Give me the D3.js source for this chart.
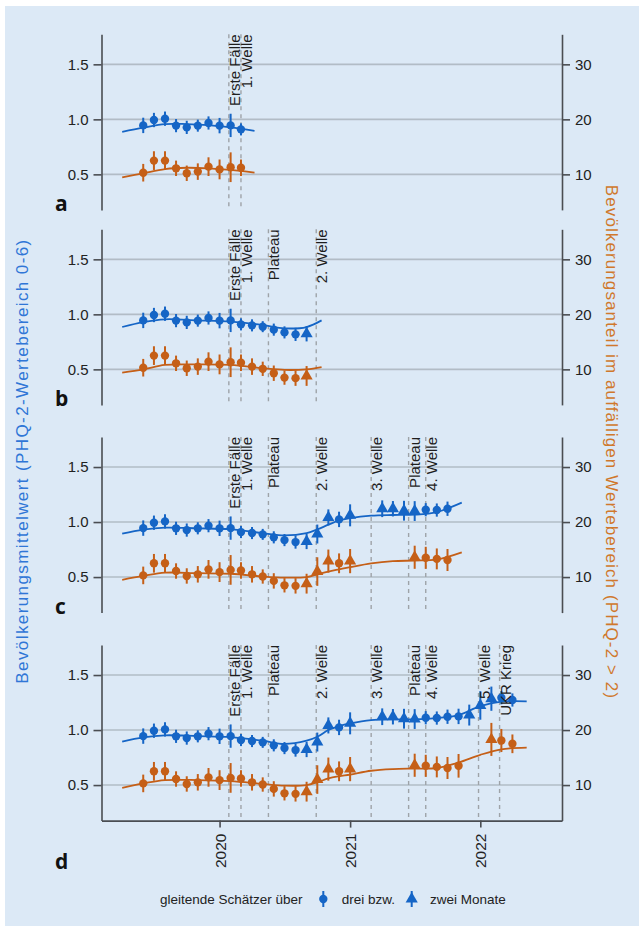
<!DOCTYPE html>
<html>
<head>
<meta charset="utf-8">
<title>PHQ-2 Zeitverlauf</title>
<script src="https://cdn.jsdelivr.net/npm/d3@7"></script>
<style>
    body { margin: 0; background: #fff; }
    svg { display: block; font-family: 'Liberation Sans', Arial, sans-serif; }
</style>
</head>
<body>
<svg id="phq-trend" width="639" height="930"></svg>
<script>
// gleitende Monatsschaetzer, Jun 2019 - Apr 2022 (Feb/Mar 2021 fehlen)
let months = ['2019-06', '2019-07', '2019-08', '2019-09', '2019-10', '2019-11', '2019-12',
    '2020-01', '2020-02', '2020-03', '2020-04', '2020-05', '2020-06', '2020-07', '2020-08',
    '2020-09', '2020-10', '2020-11', '2020-12', '2021-01', '2021-04', '2021-05', '2021-06',
    '2021-07', '2021-08', '2021-09', '2021-10', '2021-11', '2021-12', '2022-01', '2022-02',
    '2022-03', '2022-04']
// 3 = drei Monate (Kreis), 2 = zwei Monate (Dreieck)
let windows = [3, 3, 3, 3, 3, 3, 3, 3, 3, 3, 3, 3, 3, 3, 3,
    2, 2, 2, 3, 2, 2, 2, 2, 2, 3, 3, 3, 3, 2, 2, 2, 3, 3]
let meanValues = [0.945, 0.994, 1.006, 0.943, 0.927, 0.943, 0.967, 0.943, 0.945, 0.909,
    0.900, 0.888, 0.861, 0.836, 0.818, 0.824, 0.891, 1.042, 1.024, 1.061,
    1.121, 1.121, 1.103, 1.100, 1.112, 1.109, 1.121, 1.124, 1.136, 1.224,
    1.285, 1.294, 1.273]
let meanErrors = [0.07, 0.065, 0.065, 0.06, 0.06, 0.055, 0.06, 0.07, 0.106, 0.055,
    0.055, 0.05, 0.055, 0.055, 0.06, 0.07, 0.086, 0.073, 0.07, 0.1,
    0.076, 0.07, 0.09, 0.09, 0.06, 0.06, 0.065, 0.07, 0.095, 0.13,
    0.11, 0.06, 0.06]
let shareValues = [10.3, 12.5, 12.5, 11.1, 10.2, 10.5, 11.4, 10.9, 11.3, 11.2,
    10.5, 10.1, 9.3, 8.5, 8.4, 8.8, 11.0, 12.9, 12.5, 12.9,
    null, null, null, 13.6, 13.5, 13.3, 13.1, 13.5, null, null,
    18.3, 18.1, 17.5]
let shareErrors = [1.6, 1.7, 1.7, 1.4, 1.4, 1.5, 1.7, 1.8, 2.7, 1.5,
    1.5, 1.3, 1.4, 1.3, 1.4, 1.8, 2.6, 2.1, 1.8, 2.2,
    null, null, null, 2.1, 2.0, 1.9, 2.0, 2.15, null, null,
    3.0, 2.1, 1.7]

let eventNames = ['Erste Fälle', '1. Welle', 'Plateau', '2. Welle', '3. Welle', 'Plateau', '4. Welle', '5. Welle', 'UKR Krieg']
let eventDates = ['2020-01-27', '2020-03-01', '2020-05-17', '2020-09-28', '2021-03-01', '2021-06-14', '2021-08-01', '2021-12-27', '2022-02-24']

let panelNames = ['a', 'b', 'c', 'd']
let panelLastMonth = ['2020-03', '2020-09', '2021-10', '2022-04']
let panelEventCount = [2, 4, 7, 9]

// geglaettete Verlaeufe je Teilabbildung
let curveDatesA = ['2019-04-03', '2019-06-01', '2019-08-01', '2019-10-01', '2019-12-01', '2020-02-01', '2020-04-08']
let meanCurveA = [0.887, 0.924, 0.957, 0.957, 0.948, 0.927, 0.896]
let shareCurveA = [9.45, 10.2, 10.96, 11.2, 11.1, 10.8, 10.3]

let curveDatesB = ['2019-04-03', '2019-06-01', '2019-08-01', '2019-11-01', '2020-02-01', '2020-05-01', '2020-07-01', '2020-09-01', '2020-10-13']
let meanCurveB = [0.885, 0.93, 0.955, 0.945, 0.933, 0.903, 0.873, 0.885, 0.945]
let shareCurveB = [9.4, 10.0, 10.8, 10.9, 10.8, 10.2, 9.9, 10.0, 10.4]

let curveDatesC = ['2019-04-03', '2019-06-01', '2019-08-01', '2019-11-01', '2020-02-01', '2020-05-01', '2020-07-01', '2020-09-01',
    '2020-10-01', '2020-11-01', '2020-12-01', '2021-01-01', '2021-03-01', '2021-05-01', '2021-07-01', '2021-09-01', '2021-11-10']
let meanCurveC = [0.894, 0.931, 0.949, 0.943, 0.934, 0.9, 0.879, 0.9, 0.934, 0.976, 1.015, 1.036, 1.058, 1.064, 1.067, 1.091, 1.176]
let shareCurveC = [9.5, 10.2, 10.8, 10.7, 10.6, 10.1, 9.9, 10.0, 10.5, 11.0, 11.4, 11.8, 12.5, 12.9, 13.0, 13.2, 14.5]

let curveDatesD = ['2019-04-03', '2019-06-01', '2019-08-01', '2019-11-01', '2020-02-01', '2020-05-01', '2020-07-01', '2020-09-01',
    '2020-10-01', '2020-11-01', '2020-12-01', '2021-01-01', '2021-03-01', '2021-05-01', '2021-07-01', '2021-09-01',
    '2021-11-01', '2022-01-01', '2022-03-01', '2022-05-11']
let meanCurveD = [0.894, 0.933, 0.952, 0.945, 0.936, 0.903, 0.873, 0.903, 0.939, 1.0, 1.036, 1.061, 1.091, 1.097, 1.097, 1.109, 1.136, 1.218, 1.258, 1.261]
let shareCurveD = [9.5, 10.3, 10.9, 10.9, 10.7, 10.2, 9.9, 10.0, 10.5, 11.2, 11.6, 11.9, 12.6, 12.9, 13.0, 13.1, 14.1, 15.5, 16.5, 16.8]

let meanTicks = [0.5, 1.0, 1.5]
let shareTicks = [10, 20, 30]
let yearTicks = ['2020', '2021', '2022']

let curveDates = [curveDatesA, curveDatesB, curveDatesC, curveDatesD]
let meanCurves = [meanCurveA, meanCurveB, meanCurveC, meanCurveD]
let shareCurves = [shareCurveA, shareCurveB, shareCurveC, shareCurveD]

function main() {
    let svg = d3.select('#phq-trend')
    let blue = '#1565c6',
        orange = '#c55f17',
        panelTops = [34.3, 229.3, 437, 645],
        panelHeight = 175.6,
        left = 101.5,
        right = 562

    let parseDay = d3.timeParse('%Y-%m-%d'),
        parseMonth = d3.timeParse('%Y-%m'),
        parseYear = d3.timeParse('%Y')

    let x = d3.scaleTime()
        .domain([parseDay('2019-02-04'), parseDay('2022-08-18')])
        .range([left, right])

    svg.append('rect')
        .attr('x', 5).attr('y', 6)
        .attr('width', 634).attr('height', 920)
        .attr('fill', '#dce9f6')

    let points = months.map(function (m, i) {
        return {
            date: parseMonth(m),
            window: windows[i],
            mean: meanValues[i],
            meanErr: meanErrors[i],
            share: shareValues[i],
            shareErr: shareErrors[i]
        }
    })
    let events = eventNames.map((n, i) => ({name: n, date: parseDay(eventDates[i])}))

    const circle = d3.symbol().type(d3.symbolCircle).size(55)
    const triangle = d3.symbol().type(d3.symbolTriangle).size(64)

    panelNames.forEach(function (name, p) {
        let top = panelTops[p]
        let yMean = d3.scaleLinear().domain([0.177, 1.773]).range([top + panelHeight, top]),
            yShare = d3.scaleLinear().domain([3.54, 35.46]).range([top + panelHeight, top])
        let g = svg.append('g').attr('class', 'panel-' + name)

        g.selectAll('.grid')
            .data(meanTicks)
            .enter().append('line')
            .attr('class', 'grid')
            .attr('x1', left).attr('x2', right)
            .attr('y1', d => yMean(d)).attr('y2', d => yMean(d))
            .attr('stroke', '#b2bcc6')
            .attr('stroke-width', 1.6)

        let panelEvents = events.slice(0, panelEventCount[p])
        g.selectAll('.event')
            .data(panelEvents)
            .enter().append('line')
            .attr('class', 'event')
            .attr('x1', d => x(d.date)).attr('x2', d => x(d.date))
            .attr('y1', top).attr('y2', top + panelHeight)
            .attr('stroke', '#9ea3a8')
            .attr('stroke-width', 1.4)
            .attr('stroke-dasharray', '4,4')

        let dates = curveDates[p].map(parseDay)
        let meanLine = d3.line()
            .curve(d3.curveCatmullRom.alpha(0.5))
            .x(d => x(d.date))
            .y(d => yMean(d.value))
        let shareLine = d3.line()
            .curve(d3.curveCatmullRom.alpha(0.5))
            .x(d => x(d.date))
            .y(d => yShare(d.value))

        g.append('path')
            .attr('d', meanLine(dates.map((d, i) => ({date: d, value: meanCurves[p][i]}))))
            .attr('fill', 'none')
            .attr('stroke', blue)
            .attr('stroke-width', 1.8)
        g.append('path')
            .attr('d', shareLine(dates.map((d, i) => ({date: d, value: shareCurves[p][i]}))))
            .attr('fill', 'none')
            .attr('stroke', orange)
            .attr('stroke-width', 1.8)

        let last = parseMonth(panelLastMonth[p])
        let visible = points.filter(d => d.date <= last)
        let shareVisible = visible.filter(d => d.share !== null)

        g.selectAll('.mean-bar')
            .data(visible)
            .enter().append('line')
            .attr('x1', d => x(d.date)).attr('x2', d => x(d.date))
            .attr('y1', d => yMean(d.mean - d.meanErr))
            .attr('y2', d => yMean(d.mean + d.meanErr))
            .attr('stroke', blue)
            .attr('stroke-width', 2)
        g.selectAll('.mean-dot')
            .data(visible)
            .enter().append('path')
            .attr('transform', d => 'translate(' + x(d.date) + ',' + yMean(d.mean) + ')')
            .attr('d', d => d.window === 3 ? circle() : triangle())
            .attr('fill', blue)

        g.selectAll('.share-bar')
            .data(shareVisible)
            .enter().append('line')
            .attr('x1', d => x(d.date)).attr('x2', d => x(d.date))
            .attr('y1', d => yShare(d.share - d.shareErr))
            .attr('y2', d => yShare(d.share + d.shareErr))
            .attr('stroke', orange)
            .attr('stroke-width', 2)
        g.selectAll('.share-dot')
            .data(shareVisible)
            .enter().append('path')
            .attr('transform', d => 'translate(' + x(d.date) + ',' + yShare(d.share) + ')')
            .attr('d', d => d.window === 3 ? circle() : triangle())
            .attr('fill', orange)

        let leftAxis = g.append('g')
            .attr('transform', 'translate(' + left + ',0)')
            .call(d3.axisLeft(yMean).tickValues(meanTicks).tickFormat(d3.format('.1f')).tickSize(8).tickSizeOuter(0).tickPadding(5))
        let rightAxis = g.append('g')
            .attr('transform', 'translate(' + right + ',0)')
            .call(d3.axisRight(yShare).tickValues(shareTicks).tickSize(8).tickSizeOuter(0).tickPadding(5))
        ;[leftAxis, rightAxis].forEach(function (a) {
            a.selectAll('path, line').attr('stroke', '#4a4d52').attr('stroke-width', 1.6)
            a.selectAll('text').attr('font-size', 15).attr('fill', '#222').attr('font-family', 'Liberation Sans, Arial, sans-serif')
        })

        if (name === 'd') {
            let bottomAxis = g.append('g')
                .attr('transform', 'translate(0,' + (top + panelHeight) + ')')
                .call(d3.axisBottom(x).tickValues(yearTicks.map(parseYear)).tickFormat(d3.timeFormat('%Y')).tickSize(7).tickSizeOuter(0))
            bottomAxis.selectAll('path, line').attr('stroke', '#4a4d52').attr('stroke-width', 1.6)
            bottomAxis.selectAll('text')
                .attr('transform', 'rotate(-90)')
                .attr('text-anchor', 'end')
                .attr('x', -13).attr('y', 0)
                .attr('dy', '0.35em')
                .attr('font-size', 15.5)
                .attr('fill', '#222')
                .attr('font-family', 'Liberation Sans, Arial, sans-serif')
        }

        g.selectAll('.event-label')
            .data(panelEvents)
            .enter().append('text')
            .attr('transform', d => 'translate(' + (x(d.date) + 11) + ',' + top + ') rotate(-90)')
            .attr('text-anchor', 'end')
            .attr('font-size', 15)
            .attr('fill', '#1e1e1e')
            .text(d => d.name)

        g.append('text')
            .attr('x', 55)
            .attr('y', name === 'd' ? 869 : top + panelHeight + 1)
            .attr('font-family', 'Open Sans, sans-serif')
            .attr('font-weight', 'bold')
            .attr('font-size', 21)
            .attr('fill', '#111')
            .text(name)
    })

    svg.append('text')
        .attr('transform', 'translate(28,461) rotate(-90)')
        .attr('text-anchor', 'middle')
        .attr('font-size', 17)
        .attr('letter-spacing', 1.4)
        .attr('fill', '#2f76d6')
        .text('Bevölkerungsmittelwert (PHQ-2-Wertebereich 0-6)')
    svg.append('text')
        .attr('transform', 'translate(606,442) rotate(90)')
        .attr('text-anchor', 'middle')
        .attr('font-size', 17)
        .attr('letter-spacing', 1.1)
        .attr('fill', '#d0782c')
        .text('Bevölkerungsanteil im auffälligen Wertebereich (PHQ-2 > 2)')

    // Legende
    let legend = svg.append('g').attr('transform', 'translate(0,899)')
    legend.append('text')
        .attr('x', 160).attr('dy', '0.35em')
        .attr('font-size', 13.5).attr('fill', '#222')
        .text('gleitende Schätzer über')
    legend.append('line')
        .attr('x1', 323.3).attr('x2', 323.3).attr('y1', -8).attr('y2', 8)
        .attr('stroke', blue).attr('stroke-width', 2)
    legend.append('path')
        .attr('transform', 'translate(323.3,0)')
        .attr('d', circle())
        .attr('fill', blue)
    legend.append('text')
        .attr('x', 341.7).attr('dy', '0.35em')
        .attr('font-size', 13.5).attr('fill', '#222')
        .text('drei bzw.')
    legend.append('line')
        .attr('x1', 411.7).attr('x2', 411.7).attr('y1', -8).attr('y2', 8)
        .attr('stroke', blue).attr('stroke-width', 2)
    legend.append('path')
        .attr('transform', 'translate(411.7,0)')
        .attr('d', triangle())
        .attr('fill', blue)
    legend.append('text')
        .attr('x', 430).attr('dy', '0.35em')
        .attr('font-size', 13.5).attr('fill', '#222')
        .text('zwei Monate')
}

main()
</script>
</body>
</html>
